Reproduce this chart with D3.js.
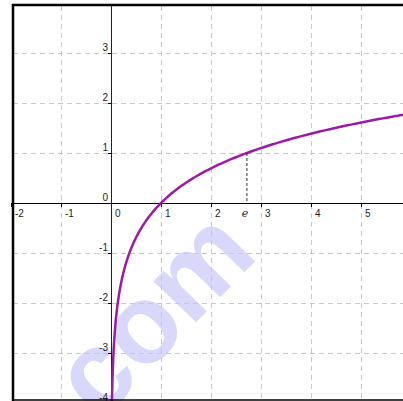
<!DOCTYPE html>
<html>
<head>
<meta charset="utf-8">
<title>ln x</title>
<script src="https://cdn.jsdelivr.net/npm/d3@7"></script>
<style>
body { margin: 0; background: #fff; }
.grid line { stroke: #c8c8c8; stroke-width: 1; stroke-dasharray: 5,4; shape-rendering: crispEdges; }
.lbl { font-family: Arial, "Liberation Sans", sans-serif; font-size: 10px; fill: #222; }
</style>
</head>
<body>
<script>
// tick values
var xTicks = [-2, -1, 0, 1, 2, 3, 4, 5];
var yTicks = [-4, -3, -2, -1, 0, 1, 2, 3];
var markX = [Math.E];
var markLabel = ["e"];

var w = 403, h = 401;

var svg = d3.select("body").append("svg")
    .attr("width", w).attr("height", h);

// 50px per unit, origin at (111, 203)
var x = d3.scaleLinear().domain([-2, 5.84]).range([11, 403]);
var y = d3.scaleLinear().domain([-4, 4]).range([403, 3]);

// watermark
svg.append("text")
    .attr("transform", "translate(100,422) rotate(-46)")
    .attr("font-family", "Arial, 'Liberation Sans', sans-serif")
    .attr("font-weight", "bold")
    .attr("font-size", 112)
    .attr("fill", "#d8d8fa")
    .text("com");

// grid
var g = svg.append("g").attr("class", "grid");
g.selectAll(".vx").data(xTicks.filter(function(d) { return d !== 0 && d !== -2; }))
    .enter().append("line")
    .attr("x1", function(d) { return Math.round(x(d)) + 0.5; })
    .attr("x2", function(d) { return Math.round(x(d)) + 0.5; })
    .attr("y1", 6).attr("y2", 400);
g.selectAll(".hy").data(yTicks.filter(function(d) { return d !== 0 && d !== -4; }))
    .enter().append("line")
    .attr("y1", function(d) { return Math.round(y(d)) + 0.5; })
    .attr("y2", function(d) { return Math.round(y(d)) + 0.5; })
    .attr("x1", 13).attr("x2", w);

// axes
svg.append("line")
    .attr("x1", 13).attr("x2", w)
    .attr("y1", y(0) + 0.5).attr("y2", y(0) + 0.5)
    .attr("stroke", "#000").attr("stroke-width", 1);
svg.append("line")
    .attr("x1", x(0) + 0.5).attr("x2", x(0) + 0.5)
    .attr("y1", 5).attr("y2", 400)
    .attr("stroke", "#222").attr("stroke-width", 1);

// tick marks
svg.selectAll(".xt").data(xTicks.filter(function(d) { return d !== 0; }))
    .enter().append("line")
    .attr("x1", function(d) { return Math.round(x(d)) + 0.5; })
    .attr("x2", function(d) { return Math.round(x(d)) + 0.5; })
    .attr("y1", y(0)).attr("y2", y(0) + 4)
    .attr("stroke", "#000");
svg.selectAll(".yt").data(yTicks.filter(function(d) { return d !== 0; }))
    .enter().append("line")
    .attr("y1", function(d) { return Math.round(y(d)) + 0.5; })
    .attr("y2", function(d) { return Math.round(y(d)) + 0.5; })
    .attr("x1", x(0) - 3).attr("x2", x(0))
    .attr("stroke", "#000");

// tick labels
svg.selectAll(".xl").data(xTicks)
    .enter().append("text").attr("class", "lbl")
    .attr("x", function(d) { return x(d) + 4; })
    .attr("y", y(0) + 14)
    .text(function(d) { return d; });
svg.selectAll(".yl").data(yTicks)
    .enter().append("text").attr("class", "lbl")
    .attr("text-anchor", "end")
    .attr("x", x(0) - 3)
    .attr("y", function(d) { return y(d) - 2; })
    .text(function(d) { return d; });

// curve y = ln x
var xs = d3.range(0, 401).map(function(i) {
    return Math.exp(-4 + i * (Math.log(5.84) + 4) / 400);
});
var line = d3.line()
    .x(function(d) { return x(d); })
    .y(function(d) { return y(Math.log(d)); });
svg.append("path")
    .attr("d", line(xs))
    .attr("fill", "none")
    .attr("stroke", "#9c1aa6")
    .attr("stroke-width", 2.5);

// x = e marker
svg.selectAll(".em").data(markX)
    .enter().append("line")
    .attr("x1", function(d) { return x(d); })
    .attr("x2", function(d) { return x(d); })
    .attr("y1", function(d) { return y(Math.log(d)); })
    .attr("y2", y(0))
    .attr("stroke", "#333").attr("stroke-dasharray", "3,2");
svg.selectAll(".eml").data(markX)
    .enter().append("text")
    .attr("x", function(d) { return x(d) - 2; })
    .attr("y", y(0) + 14)
    .attr("text-anchor", "middle")
    .attr("font-family", "'DejaVu Serif', serif")
    .attr("font-style", "italic")
    .attr("font-size", 11)
    .attr("fill", "#222")
    .text(function(d, i) { return markLabel[i]; });

// frame
svg.append("line").attr("x1", 13).attr("x2", 13).attr("y1", 4).attr("y2", 401)
    .attr("stroke", "#000").attr("stroke-width", 2.5);
svg.append("line").attr("x1", 12).attr("x2", w).attr("y1", 5).attr("y2", 5)
    .attr("stroke", "#000").attr("stroke-width", 2.5);
svg.append("line").attr("x1", 12).attr("x2", w).attr("y1", 400).attr("y2", 400)
    .attr("stroke", "#000").attr("stroke-width", 1.5);
</script>
</body>
</html>
